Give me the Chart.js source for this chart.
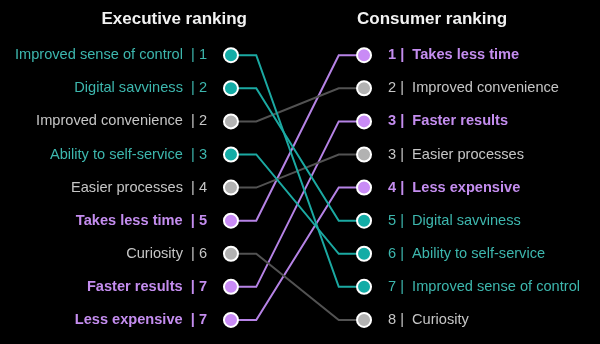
<!DOCTYPE html>
<html>
<head>
<meta charset="utf-8">
<script src="https://cdn.jsdelivr.net/npm/chart.js@4"></script>
<style>
  html, body { margin: 0; padding: 0; background: #000; }
  #wrap { width: 600px; height: 344px; }
</style>
</head>
<body>
<div id="wrap"><canvas id="slopeChart"></canvas></div>
<script>
// executive side, top to bottom
const execLabels = ['Improved sense of control', 'Digital savviness', 'Improved convenience', 'Ability to self-service',
    'Easier processes', 'Takes less time', 'Curiosity', 'Faster results', 'Less expensive'];
const execRanks = [1, 2, 2, 3, 4, 5, 6, 7, 7];

// consumer side, top to bottom
const consumerLabels = ['Takes less time', 'Improved convenience', 'Faster results', 'Easier processes',
    'Less expensive', 'Digital savviness', 'Ability to self-service', 'Improved sense of control', 'Curiosity'];
const consumerRanks = [1, 2, 3, 3, 4, 5, 6, 7, 8];

// which colour group each item belongs to
const tealItems = ['Improved sense of control', 'Digital savviness', 'Ability to self-service'];
const purpleItems = ['Takes less time', 'Faster results', 'Less expensive'];

const palette = {
    teal:   { text: '#3db7ae', line: '#1ba9a2', dot: '#13aca6', bold: false },
    purple: { text: '#c48def', line: '#b683e6', dot: '#c98bf6', bold: true },
    grey:   { text: '#c6c6c6', line: '#525252', dot: '#b2b2b2', bold: false }
};

function groupOf(item) {
    if (tealItems.includes(item)) return palette.teal;
    if (purpleItems.includes(item)) return palette.purple;
    return palette.grey;
}

const FONT = '"Liberation Sans", Arial, sans-serif';

// scriptable tick helpers, scale-level calls come without a tick
const tickColor = labels => c => c.tick ? groupOf(labels[c.tick.value]).text : '#c6c6c6';
const tickFont = labels => c => ({
    family: FONT,
    size: 14.6,
    weight: c.tick && groupOf(labels[c.tick.value]).bold ? 'bold' : 'normal'
});

const elbow = 0.19;

const datasets = execLabels.map((item, i) => {
    const g = groupOf(item);
    const j = consumerLabels.indexOf(item);
    return {
        label: item,
        data: [
            { x: 0, y: i },
            { x: elbow, y: i },
            { x: 1 - elbow, y: j },
            { x: 1, y: j }
        ],
        clip: false,
        borderColor: g.line,
        borderWidth: 2,
        tension: 0,
        pointRadius: [7, 0, 0, 7],
        pointBackgroundColor: g.dot,
        pointBorderColor: '#ffffff',
        pointBorderWidth: 2,
        pointHoverRadius: [7, 0, 0, 7]
    };
});

const rowTicks = scale => {
    scale.ticks = execLabels.map((_, i) => ({ value: i }));
};

const titlePlugin = {
    id: 'columnTitles',
    afterDraw(chart) {
        const ctx = chart.ctx;
        const x = chart.scales.x;
        ctx.save();
        ctx.fillStyle = '#f2f2f2';
        ctx.font = 'bold 17px ' + FONT;
        ctx.textBaseline = 'middle';
        ctx.textAlign = 'right';
        ctx.fillText('Executive ranking', x.getPixelForValue(0) + 16, 19);
        ctx.textAlign = 'left';
        ctx.fillText('Consumer ranking', x.getPixelForValue(1) - 7, 19);
        ctx.restore();
    }
};

const ctx = document.getElementById('slopeChart').getContext('2d');
new Chart(ctx, {
    type: 'line',
    data: { datasets: datasets },
    plugins: [titlePlugin],
    options: {
        responsive: true,
        maintainAspectRatio: false,
        animation: false,
        layout: { padding: { top: 34, bottom: 4, left: 0, right: 0 } },
        plugins: {
            legend: { display: false },
            tooltip: { enabled: false }
        },
        scales: {
            x: {
                type: 'linear',
                min: -0.12,
                max: 1.12,
                display: false
            },
            y: {
                type: 'linear',
                position: 'left',
                reverse: true,
                min: -0.64,
                max: 8.22,
                afterBuildTicks: rowTicks,
                afterFit(scale) { scale.width = 215; },
                grid: { display: false, drawTicks: false },
                border: { display: false },
                ticks: {
                    padding: 8,
                    color: tickColor(execLabels),
                    font: tickFont(execLabels),
                    callback: v => execLabels[v] + '  | ' + execRanks[v]
                }
            },
            y2: {
                type: 'linear',
                position: 'right',
                display: true,
                reverse: true,
                min: -0.64,
                max: 8.22,
                afterBuildTicks: rowTicks,
                afterFit(scale) { scale.width = 220; },
                grid: { display: false, drawTicks: false },
                border: { display: false },
                ticks: {
                    padding: 8,
                    color: tickColor(consumerLabels),
                    font: tickFont(consumerLabels),
                    callback: v => consumerRanks[v] + ' |  ' + consumerLabels[v]
                }
            }
        }
    }
});
</script>
</body>
</html>
